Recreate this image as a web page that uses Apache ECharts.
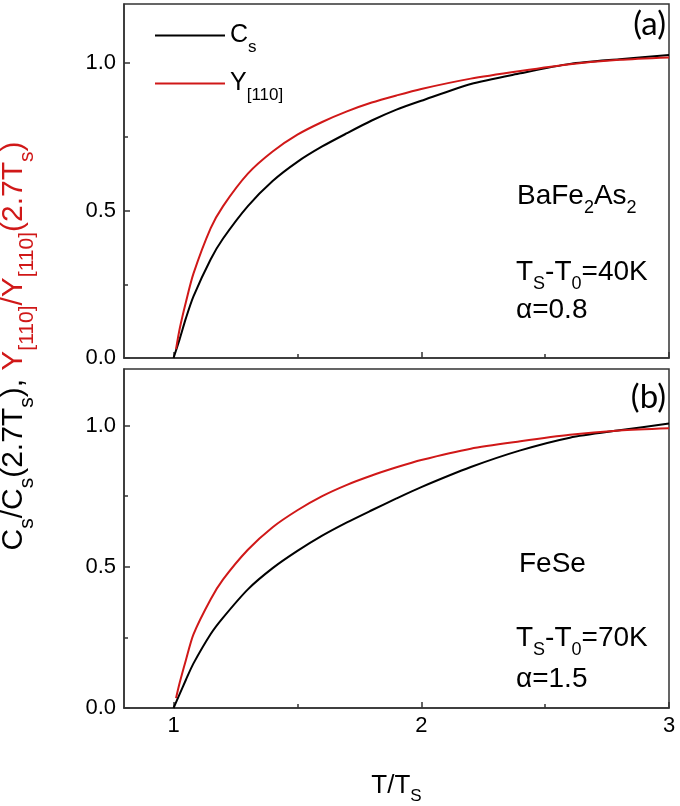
<!DOCTYPE html>
<html>
<head>
<meta charset="utf-8">
<script src="https://cdn.jsdelivr.net/npm/echarts@6/dist/echarts.min.js"></script>
<style>html,body{margin:0;padding:0;background:#fff}#c{width:680px;height:806px}</style>
</head>
<body>
<div id="c"></div>
<script>
// ---- data ----
// panel (a): BaFe2As2
const aCsX = [1.0, 1.025, 1.05, 1.08, 1.15, 1.2, 1.3, 1.4, 1.5, 1.6, 1.7, 1.8, 1.9, 2.0, 2.2, 2.4, 2.6, 2.8, 3.0];
const aCsY = [0, 0.065, 0.135, 0.208, 0.335, 0.405, 0.515, 0.60, 0.665, 0.717, 0.762, 0.805, 0.842, 0.872, 0.929, 0.965, 0.997, 1.013, 1.027];
const aYX = [1.01, 1.025, 1.05, 1.08, 1.15, 1.2, 1.3, 1.4, 1.5, 1.6, 1.7, 1.8, 1.9, 2.0, 2.2, 2.4, 2.6, 2.8, 3.0];
const aYY = [0.03, 0.10, 0.19, 0.285, 0.44, 0.515, 0.625, 0.70, 0.757, 0.800, 0.836, 0.866, 0.89, 0.912, 0.947, 0.973, 0.996, 1.011, 1.019];
// panel (b): FeSe
const bCsX = [1.0, 1.025, 1.05, 1.08, 1.15, 1.2, 1.3, 1.4, 1.5, 1.6, 1.7, 1.8, 1.9, 2.0, 2.2, 2.4, 2.6, 2.8, 3.0];
const bCsY = [0, 0.05, 0.10, 0.157, 0.262, 0.32, 0.42, 0.495, 0.556, 0.610, 0.657, 0.700, 0.742, 0.782, 0.853, 0.912, 0.957, 0.983, 1.007];
const bYX = [1.01, 1.025, 1.05, 1.08, 1.15, 1.2, 1.3, 1.4, 1.5, 1.6, 1.7, 1.8, 1.9, 2.0, 2.2, 2.4, 2.6, 2.8, 3.0];
const bYY = [0.035, 0.09, 0.17, 0.26, 0.385, 0.455, 0.56, 0.64, 0.70, 0.75, 0.79, 0.823, 0.852, 0.878, 0.918, 0.944, 0.967, 0.982, 0.990];
// ticks
const xMajor = [1, 2, 3];
const xMinor = [1.5, 2.5];
const yMajor = [0, 0.5, 1.0];
const yMinor = [0.25, 0.75];
const xRange = [0.8, 3];
const yRange = [0, 1.2];

const zip = (xs, ys) => xs.map((x, i) => [x, ys[i]]);
const FONT = 'Liberation Sans, Arial, sans-serif';
const RED = '#d01818';
const AX = '#333';

const chart = echarts.init(document.getElementById('c'), null, {renderer: 'canvas'});

function xAxes(gi, withLabels) {
  return [
    {
      type: 'value', gridIndex: gi, min: xRange[0], max: xRange[1], position: 'bottom',
      axisLine: {show: true, onZero: false, lineStyle: {color: AX, width: 1.5}},
      axisTick: {show: true, inside: true, length: 6, customValues: xMajor, lineStyle: {color: AX, width: 1.5}},
      axisLabel: {show: withLabels, customValues: xMajor, margin: 7, color: '#000', fontSize: 22, fontFamily: FONT},
      splitLine: {show: false},
      name: withLabels ? '{m|T/T}{s|S}' : '',
      nameLocation: 'middle', nameGap: 58,
      nameTextStyle: {rich: {
        m: {fontSize: 26, fontFamily: FONT, color: '#000'},
        s: {fontSize: 17, fontFamily: FONT, color: '#000', padding: [22, 0, 0, 0]}
      }}
    },
    {
      type: 'value', gridIndex: gi, min: xRange[0], max: xRange[1], position: 'bottom',
      axisLine: {show: false, onZero: false},
      axisTick: {show: true, inside: true, length: 4, customValues: xMinor, lineStyle: {color: AX, width: 1.5}},
      axisLabel: {show: false},
      splitLine: {show: false}
    }
  ];
}
function yAxes(gi) {
  return [
    {
      type: 'value', gridIndex: gi, min: yRange[0], max: yRange[1], position: 'left',
      axisLine: {show: true, onZero: false, lineStyle: {color: AX, width: 1.5}},
      axisTick: {show: true, inside: true, length: 6, customValues: yMajor, lineStyle: {color: AX, width: 1.5}},
      axisLabel: {show: true, customValues: yMajor, margin: 8, color: '#000', fontSize: 22, fontFamily: FONT,
        formatter: v => v.toFixed(1)},
      splitLine: {show: false}
    },
    {
      type: 'value', gridIndex: gi, min: yRange[0], max: yRange[1], position: 'left',
      axisLine: {show: false, onZero: false},
      axisTick: {show: true, inside: true, length: 4, customValues: yMinor, lineStyle: {color: AX, width: 1.5}},
      axisLabel: {show: false},
      splitLine: {show: false}
    }
  ];
}

const legendRich = {
  m: {fontSize: 25, fontFamily: FONT, color: '#000'},
  s: {fontSize: 17, fontFamily: FONT, color: '#000', padding: [24, 0, 0, 0]}
};

const ann = (txt, x, y) => ({
  type: 'text', x: x, y: y,
  style: {
    text: txt, align: 'left', verticalAlign: 'middle',
    rich: {
      m: {fontSize: 28, fontFamily: FONT, fill: '#000'},
      s: {fontSize: 18, fontFamily: FONT, fill: '#000', padding: [24, 0, 0, 0]}
    }
  }
});

const titleRich = {
  k: {fontSize: 30, fontFamily: FONT, fill: '#000'},
  ks: {fontSize: 21, fontFamily: FONT, fill: '#000', padding: [26, 0, 0, 0]},
  r: {fontSize: 30, fontFamily: FONT, fill: RED},
  rs: {fontSize: 21, fontFamily: FONT, fill: RED, padding: [26, 0, 0, 0]}
};

const seriesBase = {type: 'line', symbol: 'none', smooth: 0.25};

const option = {
  backgroundColor: '#fff',
  animation: false,
  grid: [
    {left: 124, right: 11, top: 4, height: 354, show: true, borderColor: AX, borderWidth: 1.5, backgroundColor: 'transparent'},
    {left: 124, right: 11, top: 369, height: 354, show: true, borderColor: AX, borderWidth: 1.5, backgroundColor: 'transparent'}
  ],
  xAxis: [...xAxes(0, false), ...xAxes(1, true)],
  yAxis: [...yAxes(0), ...yAxes(1)],
  legend: [
    {data: ['Cs'], left: 150, top: 18, icon: 'rect', itemWidth: 70, itemHeight: 2, itemGap: 0,
      formatter: () => '{m|C}{s|s}', textStyle: {rich: legendRich}, selectedMode: false},
    {data: ['Y110'], left: 150, top: 66, icon: 'rect', itemWidth: 70, itemHeight: 2, itemGap: 0,
      formatter: () => '{m|Y}{s|[110]}', textStyle: {rich: legendRich}, selectedMode: false}
  ],
  series: [
    {...seriesBase, name: 'Cs', xAxisIndex: 0, yAxisIndex: 0, data: zip(aCsX, aCsY),
      lineStyle: {color: '#000', width: 2}, itemStyle: {color: '#000'}},
    {...seriesBase, name: 'Y110', xAxisIndex: 0, yAxisIndex: 0, data: zip(aYX, aYY),
      lineStyle: {color: RED, width: 2}, itemStyle: {color: RED}},
    {...seriesBase, name: 'Cs', xAxisIndex: 2, yAxisIndex: 2, data: zip(bCsX, bCsY),
      lineStyle: {color: '#000', width: 2}, itemStyle: {color: '#000'}},
    {...seriesBase, name: 'Y110', xAxisIndex: 2, yAxisIndex: 2, data: zip(bYX, bYY),
      lineStyle: {color: RED, width: 2}, itemStyle: {color: RED}}
  ],
  graphic: [
    {type: 'text', right: 14, top: 8, style: {text: '(a)', fontSize: 33, fontFamily: 'Lato', fill: '#000'}},
    {type: 'text', right: 14, top: 381, style: {text: '(b)', fontSize: 33, fontFamily: 'Lato', fill: '#000'}},
    ann('{m|BaFe}{s|2}{m|As}{s|2}', 517, 196),
    ann('{m|T}{s|S}{m|-T}{s|0}{m|=40K}', 516, 272),
    ann('{m|\u03b1=0.8}', 516, 310),
    ann('{m|FeSe}', 519, 564),
    ann('{m|T}{s|S}{m|-T}{s|0}{m|=70K}', 516, 638),
    ann('{m|\u03b1=1.5}', 516, 679),
    {
      type: 'text', x: 14, y: 346, rotation: Math.PI / 2,
      style: {
        text: '{k|C}{ks|s}{k|/C}{ks|s}{k|(2.7T}{ks|s}{k|), }{r|Y}{rs|[110]}{r|/Y}{rs|[110]}{r|(2.7T}{rs|s}{r|)}',
        align: 'center', verticalAlign: 'middle', rich: titleRich
      }
    }
  ]
};
chart.setOption(option);
</script>
</body>
</html>
